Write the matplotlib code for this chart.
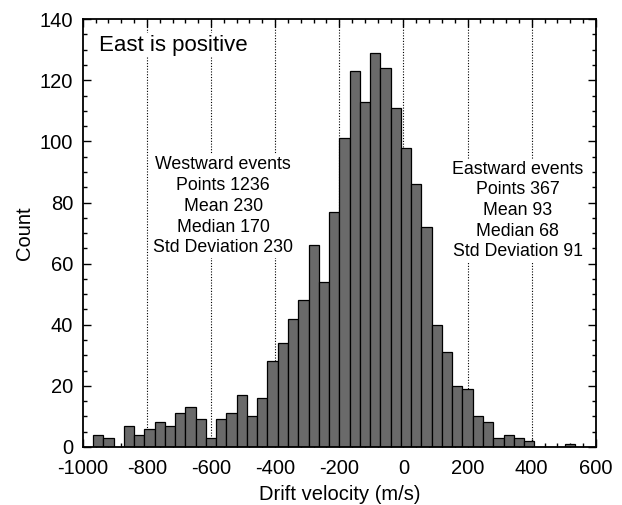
import numpy as np
import matplotlib.pyplot as plt
from matplotlib.ticker import MultipleLocator

plt.rcParams['font.family'] = ['Liberation Sans', 'DejaVu Sans']
plt.rcParams['axes.unicode_minus'] = False

# histogram: bins of 32 m/s starting at -1000
bin_start = -1000
bin_width = 32
counts = [0, 4, 3, 0, 7, 4, 6, 8, 7, 11,
          13, 9, 3, 9, 11, 17, 10, 16, 28, 34,
          42, 48, 66, 54, 77, 101, 123, 113, 129, 124,
          111, 98, 86, 72, 40, 31, 20, 19, 10, 8,
          3, 4, 3, 2, 0, 0, 0, 1, 0, 0]
guide_lines = [-800, -600, -400, -200, 0, 200, 400]

west_text = "Westward events\nPoints 1236\nMean 230\nMedian 170\nStd Deviation 230"
east_text = "Eastward events\nPoints 367\nMean 93\nMedian 68\nStd Deviation 91"

left_edges = bin_start + bin_width * np.arange(len(counts))

fig = plt.figure(figsize=(6.22, 5.05), dpi=100)
ax = fig.add_axes([0.133, 0.115, 0.825, 0.847])

for x in guide_lines:
    ax.axvline(x, color='black', linestyle=(0, (1, 1.5)), linewidth=0.8, zorder=1)

ax.bar(left_edges, counts, width=bin_width, align='edge',
       facecolor='#6a6a6a', edgecolor='black', linewidth=0.9, zorder=2)

box = dict(facecolor='white', edgecolor='none', pad=1)
ax.text(-950, 131.5, "East is positive", fontsize=16, va='center', ha='left',
        bbox=box, zorder=3)
ax.text(-562, 78.8, west_text, fontsize=12.8, ha='center', va='center',
        linespacing=1.3, bbox=box, zorder=3)
ax.text(356, 77.4, east_text, fontsize=12.8, ha='center', va='center',
        linespacing=1.28, bbox=box, zorder=3)

ax.set_xlim(-1000, 600)
ax.set_ylim(0, 140)
ax.xaxis.set_major_locator(MultipleLocator(200))
ax.xaxis.set_minor_locator(MultipleLocator(40))
ax.yaxis.set_major_locator(MultipleLocator(20))
ax.yaxis.set_minor_locator(MultipleLocator(5))
ax.tick_params(which='both', direction='in', top=True, right=True,
               labelsize=14.5, width=1)
ax.tick_params(which='major', length=6)
ax.tick_params(which='minor', length=3)
ax.tick_params(axis='x', which='major', pad=9)
ax.tick_params(axis='y', which='major', pad=7)
for s in ax.spines.values():
    s.set_linewidth(1.3)

ax.set_xlabel("Drift velocity (m/s)", fontsize=14.5, labelpad=5)
ax.set_ylabel("Count", fontsize=14.5, labelpad=4)

fig.savefig("out.png", dpi=100)
